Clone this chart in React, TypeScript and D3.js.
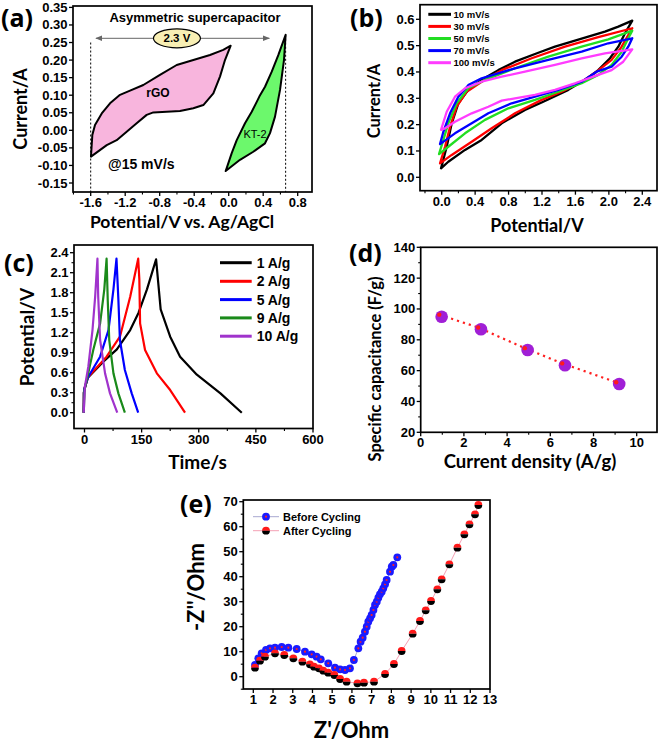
import React from 'react';
import * as d3 from 'd3';

type Pt = [number, number];

// ---------- Panel (a): asymmetric supercapacitor CV ----------
const rgoLoop: Pt[] = [
  [-1.581, -0.013], [-1.55, 0.015], [-1.472, 0.048], [-1.376, 0.077], [-1.26, 0.101], [-1.144, 0.113],
  [-0.99, 0.129], [-0.797, 0.158], [-0.603, 0.186], [-0.41, 0.2], [-0.217, 0.2145], [-0.063, 0.229],
  [0.023, 0.241], [-0.043, 0.2], [-0.101, 0.153], [-0.178, 0.105], [-0.294, 0.072], [-0.41, 0.063],
  [-0.565, 0.055], [-0.719, 0.053], [-0.874, 0.051], [-0.951, 0.044], [-1.067, 0.02], [-1.183, -0.004],
  [-1.299, -0.028], [-1.414, -0.042], [-1.597, -0.075],
];
const kt2Loop: Pt[] = [
  [0.66, 0.272], [0.575, 0.214], [0.499, 0.167], [0.421, 0.124], [0.355, 0.096], [0.325, 0.081],
  [0.267, 0.053], [0.189, 0.02], [0.093, -0.028], [0.035, -0.065], [-0.035, -0.116], [0.131, -0.084],
  [0.285, -0.061], [0.421, -0.037], [0.479, -0.008], [0.537, 0.039], [0.595, 0.115], [0.641, 0.2],
];
const aXTicks = [-1.6, -1.2, -0.8, -0.4, 0.0, 0.4, 0.8];
const aYTicks = [-0.15, -0.1, -0.05, 0, 0.05, 0.1, 0.15, 0.2, 0.25, 0.3, 0.35];
const aWindow = { left: -1.6, right: 0.66, leftTop: 0.25, rightTop: 0.272, arrowFrom: -1.539, arrowTo: 0.471, arrowY: 0.262, badgeX: -0.6 };

// ---------- Panel (b): CV at scan rates ----------
const cvRates = ['10 mV/s', '30 mV/s', '50 mV/s', '70 mV/s', '100 mV/s'];
const cvColors = ['#000000', '#ff0000', '#22dd22', '#0000ff', '#ff3cff'];
const cv10: Pt[] = [
  [-0.008, 0.034], [0.06, 0.116], [0.12, 0.205], [0.199, 0.281], [0.318, 0.332], [0.478, 0.37], [0.677, 0.407],
  [0.877, 0.439], [1.156, 0.473], [1.355, 0.496], [1.555, 0.515], [1.754, 0.534], [1.953, 0.553], [2.113, 0.572],
  [2.28, 0.595], [2.193, 0.547], [2.113, 0.496], [2.013, 0.452], [1.873, 0.407], [1.714, 0.37], [1.515, 0.332],
  [1.215, 0.287], [0.996, 0.256], [0.718, 0.205], [0.478, 0.142], [0.279, 0.104], [0.079, 0.059],
];
const cv30: Pt[] = [
  [-0.02, 0.053], [0.04, 0.116], [0.1, 0.192], [0.179, 0.268], [0.299, 0.325], [0.478, 0.363], [0.718, 0.407],
  [1.077, 0.452], [1.475, 0.496], [1.873, 0.532], [2.28, 0.566], [2.232, 0.54], [2.153, 0.496], [2.033, 0.446],
  [1.854, 0.401], [1.675, 0.363], [1.435, 0.325], [1.196, 0.294], [0.877, 0.243], [0.598, 0.186], [0.359, 0.135],
  [0.12, 0.085],
];
const cv50: Pt[] = [
  [-0.032, 0.088], [0.02, 0.142], [0.079, 0.205], [0.179, 0.281], [0.318, 0.338], [0.518, 0.37], [0.877, 0.414],
  [1.275, 0.458], [1.675, 0.496], [1.993, 0.524], [2.28, 0.557], [2.232, 0.528], [2.153, 0.477], [2.033, 0.427],
  [1.873, 0.389], [1.675, 0.357], [1.395, 0.325], [1.116, 0.294], [0.797, 0.262], [0.518, 0.218], [0.279, 0.167],
  [0.079, 0.116],
];
const cv70: Pt[] = [
  [-0.02, 0.126], [0.02, 0.173], [0.1, 0.243], [0.199, 0.306], [0.318, 0.35], [0.478, 0.376], [0.877, 0.414],
  [1.275, 0.446], [1.675, 0.477], [1.993, 0.509], [2.28, 0.528], [2.232, 0.496], [2.153, 0.458], [2.033, 0.42],
  [1.854, 0.401], [1.675, 0.363], [1.395, 0.332], [1.116, 0.306], [0.837, 0.281], [0.558, 0.243], [0.359, 0.205],
  [0.159, 0.167],
];
const cv100: Pt[] = [
  [-0.008, 0.18], [0.06, 0.249], [0.159, 0.306], [0.279, 0.338], [0.478, 0.363], [0.718, 0.382], [0.996, 0.401],
  [1.355, 0.427], [1.675, 0.452], [1.953, 0.471], [2.28, 0.486], [2.172, 0.439], [2.033, 0.407], [1.873, 0.389],
  [1.594, 0.357], [1.355, 0.332], [1.116, 0.313], [0.877, 0.3], [0.718, 0.291], [0.558, 0.268], [0.359, 0.243],
  [0.159, 0.211], [0.04, 0.186],
];
const cvLoops = [cv10, cv30, cv50, cv70, cv100];
const bXTicks = [0.0, 0.4, 0.8, 1.2, 1.6, 2.0, 2.4];
const bYTicks = [0.0, 0.1, 0.2, 0.3, 0.4, 0.5, 0.6];

// ---------- Panel (c): GCD ----------
const gcdLabels = ['1 A/g', '2 A/g', '5 A/g', '9 A/g', '10 A/g'];
const gcdColors = ['#000000', '#ff0000', '#0000ff', '#1a8a1a', '#a033cc'];
const gcd1: Pt[] = [
  [-2, 0.0], [-2, 0.3], [8, 0.52], [50, 0.77], [85, 0.95], [120, 1.24], [142, 1.5], [164, 1.85], [188, 2.3],
  [200, 1.55], [225, 1.14], [251, 0.84], [295, 0.57], [357, 0.29], [413, 0.0],
];
const gcd2: Pt[] = [
  [-2, 0.0], [-1, 0.35], [10, 0.54], [58, 0.84], [93, 1.14], [120, 1.74], [137, 2.2], [141, 2.31],
  [144, 2.0], [146, 1.34], [159, 0.94], [190, 0.59], [225, 0.34], [264, 0.0],
];
const gcd5: Pt[] = [
  [-2, 0.0], [-1, 0.35], [10, 0.54], [41, 0.84], [63, 1.24], [76, 1.85], [84, 2.31],
  [89, 1.69], [93, 1.09], [106, 0.64], [124, 0.29], [141, 0.0],
];
const gcd9: Pt[] = [
  [-2, 0.0], [0, 0.35], [6, 0.49], [23, 0.94], [41, 1.34], [52, 1.85], [58, 2.31],
  [61, 1.69], [65, 1.09], [76, 0.59], [89, 0.29], [106, 0.0],
];
const gcd10: Pt[] = [
  [-2, 0.0], [1, 0.39], [10, 0.69], [21, 1.24], [28, 1.74], [34, 2.31],
  [36, 1.74], [41, 1.09], [54, 0.59], [67, 0.29], [86, 0.0],
];
const gcdCurves = [gcd1, gcd2, gcd5, gcd9, gcd10];
const cXTicks = [0, 150, 300, 450, 600];
const cYTicks = [0.0, 0.3, 0.6, 0.9, 1.2, 1.5, 1.8, 2.1, 2.4];

// ---------- Panel (d): specific capacitance ----------
const dDensity = [0.97, 2.79, 4.95, 6.68, 9.19];
const dCapacitance = [95, 86.8, 73.4, 63.5, 51.3];
const dRedDensity = [0.86, 2.66, 4.82, 6.55, 9.05];
const dRedCapacitance = [96.3, 88, 74.6, 64.7, 52.5];
const dXTicks = [0, 2, 4, 6, 8, 10];
const dYTicks = [20, 40, 60, 80, 100, 120, 140];

// ---------- Panel (e): Nyquist ----------
const eBefore: Pt[] = [
  [1.086, 4.68], [1.255, 7.35], [1.424, 9.35], [1.644, 10.68], [1.847, 11.35], [2.1, 11.61], [2.44, 11.88],
  [2.777, 11.61], [3.2, 11.08], [3.62, 10.01], [3.96, 8.95], [4.21, 8.01], [4.42, 6.95], [4.8, 5.35],
  [5.14, 3.61], [5.4, 2.95], [5.65, 2.68], [5.9, 3.35], [6.1, 6.68], [6.325, 11.35], [6.44, 14.01],
  [6.545, 15.61], [6.66, 18.01], [6.75, 20.01], [6.83, 22.01], [6.92, 23.35], [7.0, 24.68], [7.09, 26.68],
  [7.17, 28.68], [7.26, 30.01], [7.34, 31.61], [7.42, 32.95], [7.51, 34.01], [7.59, 35.35], [7.68, 36.95],
  [7.76, 38.68], [7.93, 42.01], [8.02, 44.01], [8.1, 44.68], [8.3, 47.75],
];
const eAfter: Pt[] = [
  [1.086, 3.61], [1.34, 6.41], [1.593, 8.01], [2.1, 9.35], [2.57, 8.68], [3.03, 7.35], [3.49, 6.01],
  [3.87, 4.95], [4.08, 4.01], [4.33, 3.35], [4.55, 2.41], [4.8, 1.61], [5.11, 0.68], [5.4, -0.92],
  [5.73, -1.99], [6.28, -2.65], [6.61, -2.39], [7.12, -1.99], [7.68, 1.08], [8.13, 5.08], [8.52, 10.28],
  [9.08, 17.21], [9.45, 22.28], [9.74, 26.55], [10.01, 30.28], [10.33, 34.95], [10.55, 38.95], [10.94, 44.95],
  [11.35, 51.61], [11.7, 56.95], [11.96, 60.95], [12.24, 64.95], [12.41, 68.68],
];
const eLegend = ['Before Cycling', 'After Cycling'];
const eXTicks = [1, 2, 3, 4, 5, 6, 7, 8, 9, 10, 11, 12, 13];
const eYTicks = [0, 10, 20, 30, 40, 50, 60, 70];

// ---------- helpers ----------
const TICK_FONT = "'Liberation Sans', Arial, sans-serif";
const TITLE_FONT = "Lato, 'Open Sans', sans-serif";

type Box = { x0: number; x1: number; y0: number; y1: number };
type Lin = d3.ScaleLinear<number, number>;

function Axes({ box, x, y, xt, yt, xmin, ymin, xf, yf, fs = 13 }: {
  box: Box; x: Lin; y: Lin; xt: number[]; yt: number[]; xmin: number[]; ymin: number[];
  xf: (v: number) => string; yf: (v: number) => string; fs?: number;
}) {
  const inX = (v: number) => x(v) >= box.x0 - 0.5 && x(v) <= box.x1 + 0.5;
  const inY = (v: number) => y(v) >= box.y0 - 0.5 && y(v) <= box.y1 + 0.5;
  return (
    <g>
      <rect x={box.x0} y={box.y0} width={box.x1 - box.x0} height={box.y1 - box.y0} fill="none" stroke="#000" strokeWidth={1.7} />
      {xt.filter(inX).map((v, i) => (
        <g key={'xt' + i}>
          <line x1={x(v)} x2={x(v)} y1={box.y1} y2={box.y1 + 4} stroke="#000" strokeWidth={1.3} />
          <text x={x(v)} y={box.y1 + 15} textAnchor="middle" fontSize={fs} fontWeight="bold" fontFamily={TICK_FONT}>{xf(v)}</text>
        </g>
      ))}
      {xmin.filter(inX).map((v, i) => (
        <line key={'xm' + i} x1={x(v)} x2={x(v)} y1={box.y1} y2={box.y1 + 2.5} stroke="#000" strokeWidth={1.1} />
      ))}
      {yt.filter(inY).map((v, i) => (
        <g key={'yt' + i}>
          <line x1={box.x0} x2={box.x0 - 4} y1={y(v)} y2={y(v)} stroke="#000" strokeWidth={1.3} />
          <text x={box.x0 - 5.5} y={y(v) + 4.5} textAnchor="end" fontSize={fs} fontWeight="bold" fontFamily={TICK_FONT}>{yf(v)}</text>
        </g>
      ))}
      {ymin.filter(inY).map((v, i) => (
        <line key={'ym' + i} x1={box.x0} x2={box.x0 - 2.5} y1={y(v)} y2={y(v)} stroke="#000" strokeWidth={1.1} />
      ))}
    </g>
  );
}

function PanelLabel({ x, y, text }: { x: number; y: number; text: string }) {
  return <text x={x} y={y} fontSize={25} fontWeight="bold" fontFamily="'Open Sans', sans-serif">{text}</text>;
}

export default function App() {
  // ---- (a) ----
  const aBox: Box = { x0: 73, x1: 312, y0: 6, y1: 192 };
  const ax = d3.scaleLinear().domain([-1.6, 0.8]).range([90.7, 297.7]);
  const ay = d3.scaleLinear().domain([-0.15, 0.35]).range([183, 7.4]);
  const aLine = d3.line<Pt>().x(d => ax(d[0])).y(d => ay(d[1])).curve(d3.curveLinearClosed);

  // ---- (b) ----
  const bBox: Box = { x0: 420, x1: 657, y0: 4.7, y1: 190.7 };
  const bx = d3.scaleLinear().domain([0, 2.4]).range([441.7, 642.3]);
  const by = d3.scaleLinear().domain([0, 0.6]).range([177.3, 19.3]);
  const bLine = d3.line<Pt>().x(d => bx(d[0])).y(d => by(d[1])).curve(d3.curveLinearClosed);

  // ---- (c) ----
  const cBox: Box = { x0: 74, x1: 313, y0: 245, y1: 428.5 };
  const cx = d3.scaleLinear().domain([0, 600]).range([84.5, 313]);
  const cy = d3.scaleLinear().domain([0, 2.4]).range([412.7, 252.7]);
  const cLine = d3.line<Pt>().x(d => cx(d[0])).y(d => cy(d[1]));

  // ---- (d) ----
  const dBox: Box = { x0: 420.7, x1: 657, y0: 247.3, y1: 432.3 };
  const dx = d3.scaleLinear().domain([0, 10]).range([420.7, 636.7]);
  const dy = d3.scaleLinear().domain([20, 140]).range([432.3, 247.3]);
  const dRed: Pt[] = dRedDensity.map((v, i) => [v, dRedCapacitance[i]]);
  const dLine = d3.line<Pt>().x(d => dx(d[0])).y(d => dy(d[1]));

  // ---- (e) ----
  const eBox: Box = { x0: 243.3, x1: 490, y0: 500, y1: 689 };
  const ex = d3.scaleLinear().domain([1, 13]).range([253.3, 490]);
  const ey = d3.scaleLinear().domain([0, 70]).range([676.7, 501.7]);
  const eLine = d3.line<Pt>().x(d => ex(d[0])).y(d => ey(d[1]));

  const range = (a: number, b: number, s: number) => d3.range(a, b + s / 2, s);
  const r = 3.9;
  const topHalf = `M${-r},0A${r},${r} 0 0 1 ${r},0Z`;
  const botHalf = `M${-r},0A${r},${r} 0 0 0 ${r},0Z`;

  return (
    <svg width={661} height={745} style={{ position: 'absolute', left: 0, top: 0, background: '#fff' }}>
      <defs>
        <marker id="arr" viewBox="0 0 10 10" refX="9" refY="5" markerWidth="7" markerHeight="7" orient="auto-start-reverse">
          <path d="M0,1L10,5L0,9Z" fill="#666" />
        </marker>
        <clipPath id="clipA"><rect x={aBox.x0} y={aBox.y0} width={aBox.x1 - aBox.x0} height={aBox.y1 - aBox.y0} /></clipPath>
        <clipPath id="clipB"><rect x={bBox.x0} y={bBox.y0} width={bBox.x1 - bBox.x0} height={bBox.y1 - bBox.y0} /></clipPath>
        <clipPath id="clipC"><rect x={cBox.x0} y={cBox.y0} width={cBox.x1 - cBox.x0} height={cBox.y1 - cBox.y0} /></clipPath>
      </defs>
      <rect width={661} height={745} fill="#fff" />

      {/* ===== (a) ===== */}
      <g>
        <g clipPath="url(#clipA)">
          <path d={aLine(rgoLoop) || ''} fill="#f8b5dd" stroke="#000" strokeWidth={2} strokeLinejoin="round" />
          <path d={aLine(kt2Loop) || ''} fill="#6cf86c" stroke="#000" strokeWidth={2} strokeLinejoin="round" />
          <line x1={ax(aWindow.left)} x2={ax(aWindow.left)} y1={ay(aWindow.leftTop)} y2={aBox.y1} stroke="#000" strokeWidth={1} strokeDasharray="2,2" />
          <line x1={ax(aWindow.right)} x2={ax(aWindow.right)} y1={ay(aWindow.rightTop)} y2={aBox.y1} stroke="#000" strokeWidth={1} strokeDasharray="2,2" />
          <line x1={ax(aWindow.arrowFrom)} x2={ax(aWindow.arrowTo)} y1={ay(aWindow.arrowY)} y2={ay(aWindow.arrowY)} stroke="#666" strokeWidth={1} markerStart="url(#arr)" markerEnd="url(#arr)" />
          <ellipse cx={ax(aWindow.badgeX)} cy={ay(aWindow.arrowY)} rx={23.5} ry={9.5} fill="#f8efb4" stroke="#000" strokeWidth={1.2} />
        </g>
        <text x={ax(aWindow.badgeX)} y={ay(aWindow.arrowY) + 4} textAnchor="middle" fontSize={11.5} fontWeight="bold" fontFamily={TICK_FONT}>2.3 V</text>
        <text x={195} y={22} textAnchor="middle" fontSize={13} fontWeight="bold" fontFamily={TICK_FONT}>Asymmetric supercapacitor</text>
        <text x={158} y={97} textAnchor="middle" fontSize={12} fontWeight="bold" fontFamily={TICK_FONT}>rGO</text>
        <text x={255} y={138} textAnchor="middle" fontSize={11} fontFamily={TICK_FONT}>KT-2</text>
        <text x={108} y={168.5} fontSize={14} fontWeight="bold" fontFamily={TICK_FONT}>@15 mV/s</text>
        <Axes box={aBox} x={ax} y={ay} xt={aXTicks} yt={aYTicks} xmin={range(-1.8, 1.0, 0.4)} ymin={[]}
          xf={v => v.toFixed(1)} yf={v => v.toFixed(2)} />
        <text x={182} y={227.5} textAnchor="middle" fontSize={17.5} fontWeight="bold" fontFamily={TITLE_FONT}>Potential/V vs. Ag/AgCl</text>
        <text transform="translate(27,109) rotate(-90)" textAnchor="middle" fontSize={18} fontWeight="bold" fontFamily={TITLE_FONT}>Current/A</text>
        <PanelLabel x={1} y={27} text="(a)" />
      </g>

      {/* ===== (b) ===== */}
      <g>
        <g clipPath="url(#clipB)">
          {cvLoops.map((loop, i) => (
            <path key={i} d={bLine(loop) || ''} fill="none" stroke={cvColors[i]} strokeWidth={2.3} strokeLinejoin="round" />
          ))}
        </g>
        {cvRates.map((lab, i) => (
          <g key={lab}>
            <line x1={428.3} x2={451} y1={14.3 + i * 12.1} y2={14.3 + i * 12.1} stroke={cvColors[i]} strokeWidth={3} />
            <text x={453.5} y={14.3 + i * 12.1 + 3.5} fontSize={9.5} fontWeight="bold" fontFamily={TICK_FONT}>{lab}</text>
          </g>
        ))}
        <Axes box={bBox} x={bx} y={by} xt={bXTicks} yt={bYTicks} xmin={range(-0.2, 2.6, 0.4)} ymin={[]}
          xf={v => v.toFixed(1)} yf={v => v.toFixed(1)} />
        <text x={537} y={232} textAnchor="middle" fontSize={18} fontWeight="bold" fontFamily={TITLE_FONT}>Potential/V</text>
        <text transform="translate(380,101) rotate(-90)" textAnchor="middle" fontSize={16.5} fontWeight="bold" fontFamily={TITLE_FONT}>Current/A</text>
        <PanelLabel x={350} y={27} text="(b)" />
      </g>

      {/* ===== (c) ===== */}
      <g>
        <g clipPath="url(#clipC)">
          {gcdCurves.map((curve, i) => (
            <path key={i} d={cLine(curve) || ''} fill="none" stroke={gcdColors[i]} strokeWidth={2.2} strokeLinejoin="round" />
          ))}
        </g>
        {gcdLabels.map((lab, i) => {
          const yy = [262.7, 281.3, 299.6, 317.9, 336.2][i];
          return (
            <g key={lab}>
              <line x1={220} x2={251.7} y1={yy} y2={yy} stroke={gcdColors[i]} strokeWidth={3} />
              <text x={256.7} y={yy + 5} fontSize={14} fontWeight="bold" fontFamily={TICK_FONT}>{lab}</text>
            </g>
          );
        })}
        <Axes box={cBox} x={cx} y={cy} xt={cXTicks} yt={cYTicks} xmin={range(75, 525, 150)} ymin={range(0.15, 2.55, 0.3)}
          xf={v => String(v)} yf={v => v.toFixed(1)} />
        <text x={197.5} y={469} textAnchor="middle" fontSize={19} fontWeight="bold" fontFamily={TITLE_FONT}>Time/s</text>
        <text transform="translate(34,337) rotate(-90)" textAnchor="middle" fontSize={19} fontWeight="bold" fontFamily={TITLE_FONT}>Potential/V</text>
        <PanelLabel x={4} y={272} text="(c)" />
      </g>

      {/* ===== (d) ===== */}
      <g>
        <path d={dLine(dRed) || ''} fill="none" stroke="#ff2020" strokeWidth={2.2} strokeDasharray="2.2,4" />
        {dDensity.map((v, i) => (
          <circle key={'p' + i} cx={dx(v)} cy={dy(dCapacitance[i])} r={6.3} fill="#a01fd6" />
        ))}
        {dRed.map((p, i) => (
          <circle key={'r' + i} cx={dx(p[0])} cy={dy(p[1])} r={2.2} fill="#ff1a1a" />
        ))}
        <Axes box={dBox} x={dx} y={dy} xt={dXTicks} yt={dYTicks} xmin={range(1, 11, 2)} ymin={range(30, 130, 20)}
          xf={v => String(v)} yf={v => String(v)} />
        <text x={530} y={467.5} textAnchor="middle" fontSize={18.5} fontWeight="bold" fontFamily={TITLE_FONT}>Current density (A/g)</text>
        <text transform="translate(381,369) rotate(-90)" textAnchor="middle" fontSize={16.5} fontWeight="bold" fontFamily={TITLE_FONT}>Specific capacitance (F/g)</text>
        <PanelLabel x={349} y={262} text="(d)" />
      </g>

      {/* ===== (e) ===== */}
      <g>
        <path d={eLine(eBefore) || ''} fill="none" stroke="#a8a8d0" strokeWidth={1} />
        <path d={eLine(eAfter) || ''} fill="none" stroke="#f4a0b4" strokeWidth={1} />
        {eBefore.map((p, i) => (
          <g key={'b' + i} transform={`translate(${ex(p[0])},${ey(p[1])})`}>
            <circle r={r} fill="#1a1aff" />
            <circle r={1.1} fill="#ff2020" />
          </g>
        ))}
        {eAfter.map((p, i) => (
          <g key={'a' + i} transform={`translate(${ex(p[0])},${ey(p[1])})`}>
            <path d={topHalf} fill="#ff1a1a" />
            <path d={botHalf} fill="#000" />
          </g>
        ))}
        {eLegend.map((lab, i) => {
          const yy = 516.7 + i * 14;
          return (
            <g key={lab}>
              <line x1={253} x2={279} y1={yy} y2={yy} stroke={i === 0 ? '#a8a8d0' : '#f4a0b4'} strokeWidth={1} />
              <g transform={`translate(266,${yy})`}>
                {i === 0 ? (
                  <g><circle r={r} fill="#1a1aff" /><circle r={1.1} fill="#ff2020" /></g>
                ) : (
                  <g><path d={topHalf} fill="#ff1a1a" /><path d={botHalf} fill="#000" /></g>
                )}
              </g>
              <text x={283} y={yy + 4} fontSize={11} fontWeight="bold" fontFamily={TICK_FONT}>{lab}</text>
            </g>
          );
        })}
        <Axes box={eBox} x={ex} y={ey} xt={eXTicks} yt={eYTicks} xmin={[]} ymin={range(-5, 65, 10)}
          xf={v => String(v)} yf={v => String(v)} />
        <text x={351.5} y={738} textAnchor="middle" fontSize={22} fontWeight="bold" fontFamily={TITLE_FONT}>Z'/Ohm</text>
        <text transform="translate(204,587) rotate(-90)" textAnchor="middle" fontSize={22} fontWeight="bold" fontFamily={TITLE_FONT}>-Z''/Ohm</text>
        <PanelLabel x={180} y={513} text="(e)" />
      </g>
    </svg>
  );
}
